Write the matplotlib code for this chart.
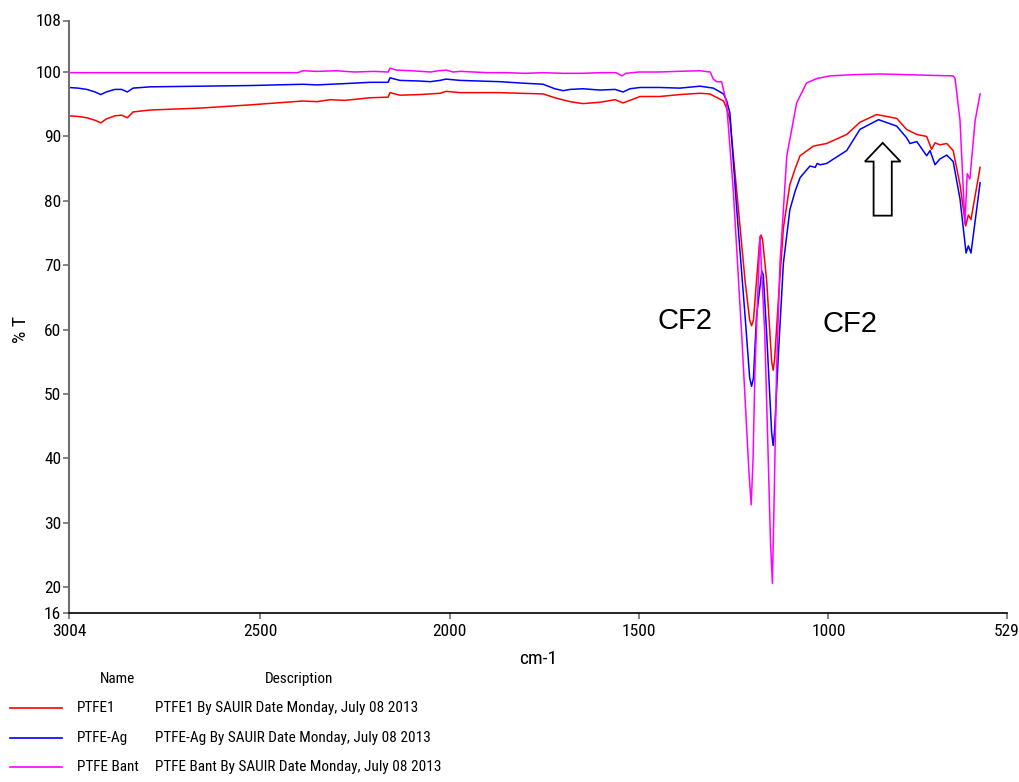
import matplotlib
matplotlib.use("Agg")
import matplotlib.pyplot as plt
from matplotlib import font_manager
from matplotlib.lines import Line2D
from matplotlib.patches import Polygon

narrow = None
for key in ["LiberationSansNarrow-Regular", "ArialNarrow", "RobotoCondensed-Regular",
            "OpenSans_Condensed-Regular", "OpenSansCondensed", "DejaVuSansCondensed.ttf",
            "Condensed-Regular", "Narrow"]:
    for f in font_manager.fontManager.ttflist:
        fn = f.fname.split("/")[-1]
        if key in fn and "Bold" not in fn and "Italic" not in fn and "Oblique" not in fn:
            narrow = f.fname
            break
    if narrow:
        break

plt.rcParams["font.family"] = ["Liberation Sans", "DejaVu Sans"]

def fp(size):
    if narrow:
        return font_manager.FontProperties(fname=narrow, size=size)
    return font_manager.FontProperties(family=["Liberation Sans", "DejaVu Sans"], size=size)

# ---------------- data ----------------
series_names = ["PTFE1", "PTFE-Ag", "PTFE Bant"]
series_desc = ["PTFE1 By SAUIR Date Monday, July 08 2013",
               "PTFE-Ag By SAUIR Date Monday, July 08 2013",
               "PTFE Bant By SAUIR Date Monday, July 08 2013"]
series_colors = ["#ff0000", "#0000ff", "#ff00ff"]

x_ticks = [3004, 2500, 2000, 1500, 1000, 529]
y_ticks = [16, 20, 30, 40, 50, 60, 70, 80, 90, 100, 108]

ptfe1_wn = [3004, 2980, 2957, 2935, 2920, 2906, 2883, 2865, 2850, 2835, 2790, 2658, 2526,
            2387, 2350, 2315, 2276, 2210, 2162, 2157, 2131, 2078, 2025, 2009, 1972, 1920,
            1867, 1814, 1753, 1722, 1682, 1648, 1603, 1563, 1542, 1524, 1497, 1445, 1392,
            1339, 1313, 1277, 1269, 1260, 1251, 1242, 1220, 1208, 1203, 1198, 1190, 1182,
            1178, 1174, 1163, 1150, 1146, 1142, 1132, 1119, 1102, 1088, 1075, 1040, 1005,
            952, 917, 873, 820, 794, 767, 741, 728, 719, 706, 688, 671, 653, 638, 631, 624, 600]
ptfe1_t = [93.2, 93.1, 92.9, 92.5, 92.1, 92.7, 93.2, 93.3, 92.9, 93.8, 94.1, 94.4, 94.9,
           95.5, 95.4, 95.7, 95.6, 96.0, 96.1, 96.8, 96.4, 96.5, 96.7, 97.0, 96.8, 96.8,
           96.8, 96.7, 96.6, 96.0, 95.4, 95.1, 95.3, 95.7, 95.2, 95.6, 96.2, 96.2, 96.5,
           96.7, 96.6, 95.5, 94.4, 92.5, 87.0, 81.4, 67.5, 61.5, 60.6, 61.5, 67.5, 73.5,
           74.7, 74.0, 67.5, 55.0, 53.7, 55.5, 64.8, 75.8, 82.5, 85.0, 87.0, 88.5, 88.9,
           90.3, 92.2, 93.4, 92.8, 91.1, 90.3, 90.0, 88.0, 89.0, 88.7, 88.9, 87.8, 82.5,
           76.1, 77.8, 77.1, 85.2]

ptfeag_wn = [3004, 2980, 2957, 2935, 2920, 2906, 2883, 2865, 2850, 2835, 2790, 2658, 2526,
             2387, 2350, 2315, 2276, 2210, 2162, 2157, 2131, 2078, 2051, 2025, 2009, 1972,
             1920, 1867, 1814, 1753, 1722, 1700, 1682, 1648, 1603, 1563, 1542, 1524, 1497,
             1445, 1392, 1339, 1304, 1277, 1269, 1260, 1251, 1242, 1220, 1208, 1203, 1198,
             1190, 1176, 1172, 1163, 1150, 1146, 1142, 1132, 1119, 1102, 1088, 1075, 1049,
             1035, 1030, 1022, 1005, 952, 917, 868, 820, 794, 785, 767, 741, 732, 719, 706,
             688, 671, 653, 637, 631, 624, 600]
ptfeag_t = [97.6, 97.5, 97.3, 96.9, 96.5, 96.9, 97.3, 97.3, 96.9, 97.5, 97.7, 97.8, 97.9,
            98.1, 98.0, 98.1, 98.2, 98.4, 98.4, 99.1, 98.7, 98.6, 98.5, 98.7, 98.9, 98.7,
            98.6, 98.5, 98.3, 98.1, 97.4, 97.1, 97.3, 97.4, 97.2, 97.3, 96.9, 97.4, 97.6,
            97.6, 97.5, 97.8, 97.5, 96.6, 95.6, 93.6, 86.0, 78.6, 62.0, 52.5, 51.2, 52.5,
            62.0, 69.1, 68.5, 59.2, 44.0, 42.0, 44.5, 56.4, 70.3, 78.6, 81.5, 83.6, 85.4,
            85.2, 85.8, 85.6, 85.8, 87.8, 91.1, 92.6, 91.6, 89.8, 88.9, 89.2, 87.0, 87.8,
            85.6, 86.5, 87.1, 86.1, 80.3, 71.9, 73.0, 71.9, 82.8]

ptfebant_wn = [3004, 2800, 2600, 2400, 2387, 2350, 2300, 2250, 2200, 2162, 2157, 2140, 2100,
               2050, 2030, 2009, 1990, 1972, 1900, 1850, 1800, 1753, 1700, 1650, 1600, 1560,
               1545, 1535, 1500, 1450, 1400, 1339, 1312, 1304, 1295, 1282, 1269, 1251, 1229,
               1210, 1204, 1199, 1194, 1181, 1168, 1153, 1148, 1143, 1137, 1128, 1110, 1084,
               1058, 1030, 996, 930, 864, 800, 740, 671, 666, 653, 640, 634, 627, 613, 600]
ptfebant_t = [99.9, 99.9, 99.9, 99.9, 100.2, 100.1, 100.2, 100.0, 100.1, 100.0, 100.6, 100.3,
              100.2, 100.0, 100.2, 100.3, 100.0, 100.1, 99.9, 99.9, 99.8, 99.9, 99.8, 99.8,
              99.9, 99.9, 99.4, 99.8, 100.0, 100.0, 100.1, 100.2, 100.0, 98.9, 98.5, 98.5,
              95.2, 81.4, 59.2, 38.0, 32.8, 40.0, 53.7, 74.5, 59.2, 27.0, 20.6, 35.0, 53.7,
              70.3, 87.0, 95.2, 98.3, 99.0, 99.4, 99.6, 99.7, 99.6, 99.5, 99.4, 99.0, 92.5,
              76.4, 84.2, 83.4, 92.5, 96.6]

# ---------------- figure ----------------
fig = plt.figure(figsize=(10.2, 7.82), dpi=100)
ax = fig.add_axes([69 / 1020, 1 - 613 / 782, 938 / 1020, (613 - 20.5) / 782])

for wn, t, c in zip([ptfe1_wn, ptfeag_wn, ptfebant_wn],
                    [ptfe1_t, ptfeag_t, ptfebant_t], series_colors):
    ax.plot(wn, t, color=c, lw=1.1)

tick_size = 12.5 if narrow else 11
leg_size = 11 if narrow else 9.6

ax.set_xlim(3004, 529)
ax.set_ylim(16, 108)
ax.set_xticks(x_ticks)
ax.set_xticklabels([str(v) for v in x_ticks], fontproperties=fp(tick_size))
ax.set_yticks(y_ticks)
ax.set_yticklabels([str(v) for v in y_ticks], fontproperties=fp(tick_size))
for s in ["top", "right"]:
    ax.spines[s].set_visible(False)
ax.spines["left"].set_color("#707070")
ax.spines["left"].set_linewidth(1.5)
ax.spines["bottom"].set_color("black")
ax.spines["bottom"].set_linewidth(1.2)
ax.tick_params(axis="y", direction="out", length=4, width=1.2, color="#707070", pad=1.5)
ax.tick_params(axis="x", direction="out", length=4, width=1.2, color="#707070", pad=4)
ax.set_xlabel("cm-1", fontproperties=fp(14 if narrow else 13), labelpad=8)
ax.set_ylabel("% T", fontproperties=fp(14 if narrow else 13))
ax.yaxis.set_label_coords(-39 / 938, 0.478)

# annotations
ax.text(1379, 61.3, "CF2", fontsize=21, ha="center", va="center")
ax.text(943, 60.9, "CF2", fontsize=21, ha="center", va="center")

# hollow up arrow
ax_cx, head_hw, shaft_hw = 857, 47, 24
tip_y, head_base_y, bottom_y = 89.0, 86.1, 77.7
arrow_pts = [(ax_cx, tip_y), (ax_cx - head_hw, head_base_y), (ax_cx - shaft_hw, head_base_y),
             (ax_cx - shaft_hw, bottom_y), (ax_cx + shaft_hw, bottom_y),
             (ax_cx + shaft_hw, head_base_y), (ax_cx + head_hw, head_base_y)]
ax.add_patch(Polygon(arrow_pts, closed=True, facecolor="white", edgecolor="black", lw=1.3,
                     zorder=5))

# legend table at bottom
fig.text(118 / 1020, 1 - 679 / 782, "Name", fontproperties=fp(leg_size), ha="center", va="center")
fig.text(299 / 1020, 1 - 679 / 782, "Description", fontproperties=fp(leg_size),
         ha="center", va="center")
rows_y = [708, 738, 767]
for name, desc, c, ry in zip(series_names, series_desc, series_colors, rows_y):
    yy = 1 - ry / 782
    fig.add_artist(Line2D([10 / 1020, 62 / 1020], [yy, yy], color=c, lw=1.2))
    fig.text(77 / 1020, yy, name, fontproperties=fp(leg_size), ha="left", va="center")
    fig.text(155 / 1020, yy, desc, fontproperties=fp(leg_size), ha="left", va="center")

fig.savefig("out.png", dpi=100)
